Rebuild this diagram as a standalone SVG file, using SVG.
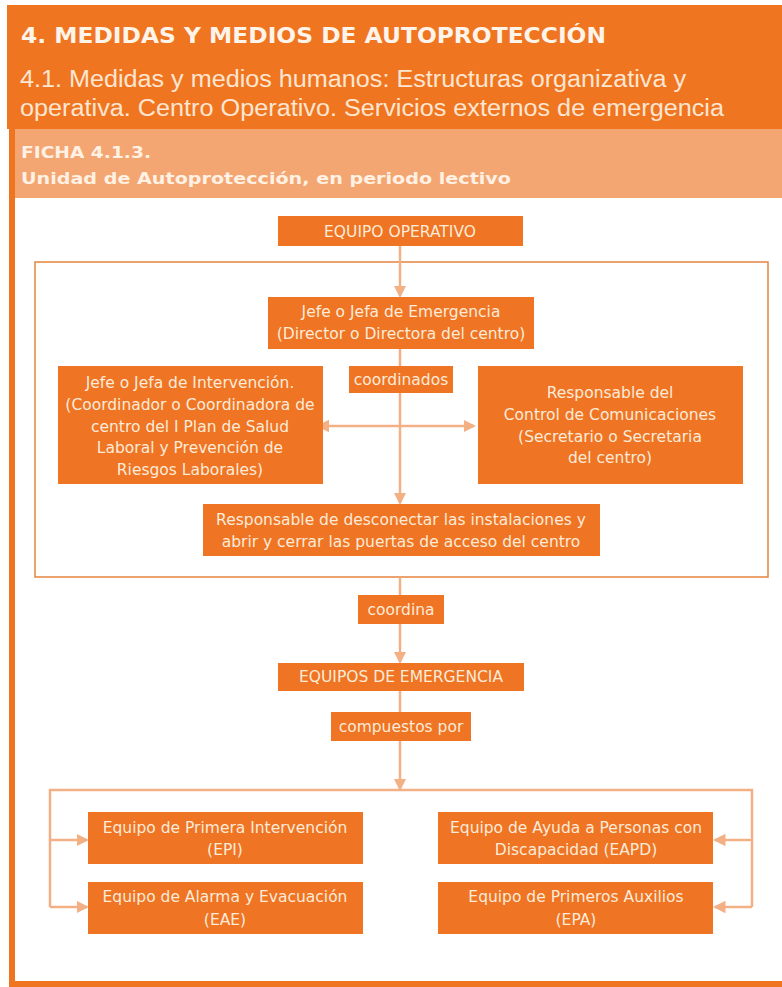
<svg xmlns="http://www.w3.org/2000/svg" width="782" height="987" viewBox="0 0 782 987">
<defs>
<style>
.box{fill:#EF7423;}
.t{font-family:"DejaVu Sans",Verdana,sans-serif;font-size:15.5px;fill:#FDEBD9;text-anchor:middle;}
.c{stroke:#F3B084;stroke-width:2.5;fill:none;}
.h1{font-family:"DejaVu Sans",Verdana,sans-serif;font-weight:bold;font-size:21px;fill:#FFF4EA;}
.h2{font-family:"Liberation Sans",Arial,sans-serif;font-size:23px;fill:#FDE6D2;}
.h3{font-family:"DejaVu Sans",Verdana,sans-serif;font-weight:bold;font-size:15px;fill:#FFF1E4;}
</style>
<marker id="ah" markerWidth="5" markerHeight="5" refX="4.2" refY="2.5" orient="auto" markerUnits="strokeWidth">
<path d="M0,0 L5,2.5 L0,5 Z" fill="#F3B084"/>
</marker>
<marker id="ahs" markerWidth="5" markerHeight="5" refX="0.8" refY="2.5" orient="auto-start-reverse" markerUnits="strokeWidth">
<path d="M0,0 L5,2.5 L0,5 Z" fill="#F3B084"/>
</marker>
</defs>
<rect width="782" height="987" fill="#FFFFFF"/>
<g id="header">
<rect x="7" y="5" width="775" height="124" fill="#F07520"/>
<rect x="9" y="129" width="773" height="69" fill="#F4A672"/>
<rect x="9" y="129" width="6" height="858" fill="#F07520"/>
<rect x="9" y="981" width="773" height="6" fill="#F07520"/>
<text class="h1" x="21" y="43" textLength="585" lengthAdjust="spacingAndGlyphs">4. MEDIDAS Y MEDIOS DE AUTOPROTECCIÓN</text>
<text class="h2" x="20" y="87" textLength="666" lengthAdjust="spacingAndGlyphs">4.1. Medidas y medios humanos: Estructuras organizativa y</text>
<text class="h2" x="20" y="116" textLength="704" lengthAdjust="spacingAndGlyphs">operativa. Centro Operativo. Servicios externos de emergencia</text>
<text class="h3" x="21" y="158" textLength="130" lengthAdjust="spacingAndGlyphs">FICHA 4.1.3.</text>
<text class="h3" x="21" y="184" textLength="490" lengthAdjust="spacingAndGlyphs">Unidad de Autoprotección, en periodo lectivo</text>
</g>
<rect id="frame" x="35" y="262" width="733" height="315" fill="none" stroke="#E5843D" stroke-width="1.5"/>
<g id="connectors">
<line class="c" x1="400" y1="246" x2="400" y2="296" marker-end="url(#ah)"/>
<line class="c" x1="400" y1="349" x2="400" y2="503" marker-end="url(#ah)"/>
<line class="c" x1="327" y1="426" x2="474" y2="426" marker-start="url(#ahs)" marker-end="url(#ah)"/>
<line class="c" x1="400" y1="577" x2="400" y2="662" marker-end="url(#ah)"/>
<line class="c" x1="400" y1="691" x2="400" y2="789" marker-end="url(#ah)"/>
<polyline class="c" points="50,907 50,790 752,790 752,907"/>
<line class="c" x1="50" y1="840" x2="87" y2="840" marker-end="url(#ah)"/>
<line class="c" x1="50" y1="907" x2="87" y2="907" marker-end="url(#ah)"/>
<line class="c" x1="752" y1="840" x2="715" y2="840" marker-end="url(#ah)"/>
<line class="c" x1="752" y1="907" x2="715" y2="907" marker-end="url(#ah)"/>
</g>
<g id="equipo-operativo">
<rect class="box" x="278" y="216" width="245" height="30"/>
<text class="t" x="400" y="237">EQUIPO OPERATIVO</text>
</g>
<g id="jefe-emergencia">
<rect class="box" x="268" y="297" width="266" height="52"/>
<text class="t" x="401" y="317">Jefe o Jefa de Emergencia</text>
<text class="t" x="401" y="339">(Director o Directora del centro)</text>
</g>
<g id="coordinados">
<rect class="box" x="349" y="366" width="104" height="27"/>
<text class="t" x="401" y="385">coordinados</text>
</g>
<g id="jefe-intervencion">
<rect class="box" x="58" y="366" width="265" height="118"/>
<text class="t" x="190" y="388">Jefe o Jefa de Intervención.</text>
<text class="t" x="190" y="410">(Coordinador o Coordinadora de</text>
<text class="t" x="190" y="432">centro del I Plan de Salud</text>
<text class="t" x="190" y="453">Laboral y Prevención de</text>
<text class="t" x="190" y="475">Riesgos Laborales)</text>
</g>
<g id="control-comunicaciones">
<rect class="box" x="478" y="366" width="265" height="118"/>
<text class="t" x="610" y="398">Responsable del</text>
<text class="t" x="610" y="420">Control de Comunicaciones</text>
<text class="t" x="610" y="442">(Secretario o Secretaria</text>
<text class="t" x="610" y="463">del centro)</text>
</g>
<g id="desconectar">
<rect class="box" x="203" y="504" width="397" height="52"/>
<text class="t" x="401" y="525">Responsable de desconectar las instalaciones y</text>
<text class="t" x="401" y="547">abrir y cerrar las puertas de acceso del centro</text>
</g>
<g id="coordina">
<rect class="box" x="358" y="595" width="86" height="29"/>
<text class="t" x="401" y="615">coordina</text>
</g>
<g id="equipos-emergencia">
<rect class="box" x="278" y="663" width="246" height="28"/>
<text class="t" x="401" y="682">EQUIPOS DE EMERGENCIA</text>
</g>
<g id="compuestos-por">
<rect class="box" x="331" y="712" width="140" height="29"/>
<text class="t" x="401" y="732">compuestos por</text>
</g>
<g id="epi">
<rect class="box" x="88" y="812" width="275" height="52"/>
<text class="t" x="225" y="833">Equipo de Primera Intervención</text>
<text class="t" x="225" y="855">(EPI)</text>
</g>
<g id="eae">
<rect class="box" x="88" y="882" width="275" height="52"/>
<text class="t" x="225" y="902">Equipo de Alarma y Evacuación</text>
<text class="t" x="225" y="925">(EAE)</text>
</g>
<g id="eapd">
<rect class="box" x="438" y="812" width="275" height="52"/>
<text class="t" x="576" y="833">Equipo de Ayuda a Personas con</text>
<text class="t" x="576" y="855">Discapacidad (EAPD)</text>
</g>
<g id="epa">
<rect class="box" x="438" y="882" width="275" height="52"/>
<text class="t" x="576" y="902">Equipo de Primeros Auxilios</text>
<text class="t" x="576" y="925">(EPA)</text>
</g>
</svg>
